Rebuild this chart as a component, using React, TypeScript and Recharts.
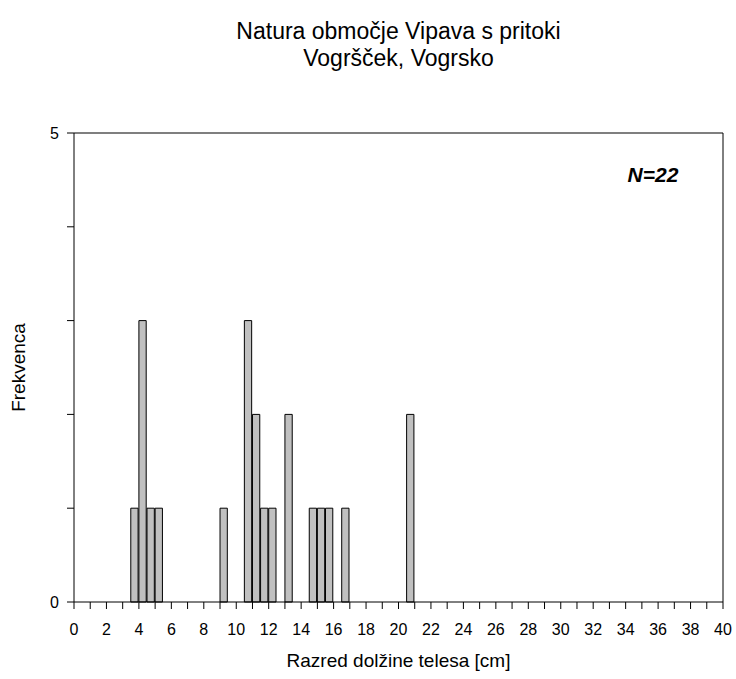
import React from "react"
import { BarChart, Bar, XAxis, YAxis, ReferenceLine, Label } from "recharts"

// length classes (lower bound, cm) and how many fish fell in each
const classLow = [3.5, 4, 4.5, 5, 9, 10.5, 11, 11.5, 12, 13, 14.5, 15, 15.5, 16.5, 20.5]
const frequency = [1, 3, 1, 1, 1, 3, 2, 1, 1, 2, 1, 1, 1, 1, 2]
const classWidth = 0.5

const xTicks = [0, 1, 2, 3, 4, 5, 6, 7, 8, 9, 10, 11, 12, 13, 14, 15, 16, 17, 18, 19, 20,
  21, 22, 23, 24, 25, 26, 27, 28, 29, 30, 31, 32, 33, 34, 35, 36, 37, 38, 39, 40]
const xTickLabels = ["0", "", "2", "", "4", "", "6", "", "8", "", "10", "", "12", "", "14", "", "16", "", "18", "", "20",
  "", "22", "", "24", "", "26", "", "28", "", "30", "", "32", "", "34", "", "36", "", "38", "", "40"]
const yTicks = [0, 1, 2, 3, 4, 5]
const yTickLabels = ["0", "", "", "", "", "5"]

const W = 736
const H = 679
const margin = { top: 133, right: 13, bottom: 0, left: 0 }
const Y_AXIS_W = 74
const X_AXIS_H = 77
const plotW = W - Y_AXIS_W - margin.right

const font = '"Liberation Sans", Arial, sans-serif'

const data = classLow.map((low, i) => ({ mid: low + classWidth / 2, n: frequency[i] }))

export default function App() {
  return (
    <div style={{ position: "absolute", left: 0, top: 0, width: W, height: H, background: "#fff", fontFamily: font }}>
      <div style={{ position: "absolute", left: Y_AXIS_W, width: plotW, top: 18, textAlign: "center", fontSize: 23, lineHeight: "27px", color: "#000" }}>
        Natura območje Vipava s pritoki
        <br />
        Vogršček, Vogrsko
      </div>
      <div style={{ position: "absolute", left: 603, width: 100, top: 164, textAlign: "center", fontSize: 21, lineHeight: "21px", fontWeight: "bold", fontStyle: "italic" }}>
        N=22
      </div>
      <BarChart width={W} height={H} data={data} margin={margin} barCategoryGap={0}>
        <XAxis
          dataKey="mid"
          type="number"
          domain={[0, 40]}
          ticks={xTicks}
          interval={0}
          tickFormatter={(v: number) => xTickLabels[xTicks.indexOf(v)] ?? ""}
          height={X_AXIS_H}
          tickSize={7}
          tickMargin={15}
          axisLine={{ stroke: "#000" }}
          tickLine={{ stroke: "#000" }}
          tick={{ fill: "#000", fontSize: 16, fontFamily: font }}
        >
          <Label value="Razred dolžine telesa [cm]" position="center" dy={20} style={{ fontSize: 19, fill: "#000", fontFamily: font }} />
        </XAxis>
        <YAxis
          type="number"
          domain={[0, 5]}
          ticks={yTicks}
          interval={0}
          tickFormatter={(v: number) => yTickLabels[yTicks.indexOf(v)] ?? ""}
          width={Y_AXIS_W}
          tickSize={7}
          tickMargin={8}
          axisLine={{ stroke: "#000" }}
          tickLine={{ stroke: "#000" }}
          tick={{ fill: "#000", fontSize: 16, fontFamily: font }}
        >
          <Label value="Frekvenca" position="center" angle={-90} dx={-19} style={{ fontSize: 19, fill: "#000", fontFamily: font }} />
        </YAxis>
        <ReferenceLine y={5} stroke="#555" strokeWidth={1.5} />
        <ReferenceLine x={40} stroke="#000" />
        <Bar dataKey="n" fill="#c0c0c0" stroke="#000" strokeWidth={1} barSize={plotW / 80} isAnimationActive={false} />
      </BarChart>
    </div>
  )
}
